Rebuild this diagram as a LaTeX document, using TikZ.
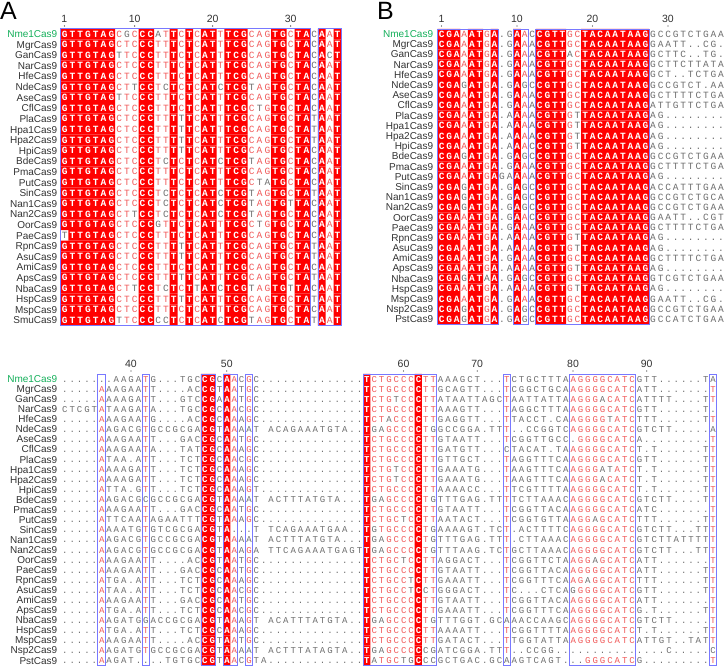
\documentclass[tikz,border=0pt]{standalone}
\usepackage{fontspec}
\setmainfont{Liberation Sans}
\newfontfamily\seqmono{Liberation Mono}
\usepackage{tikz}
\definecolor{consred}{RGB}{255,0,0}
\definecolor{simred}{RGB}{240,90,90}
\definecolor{resgray}{RGB}{110,110,110}
\definecolor{framblue}{RGB}{120,120,255}
\definecolor{namegray}{RGB}{50,50,50}
\definecolor{refgreen}{RGB}{20,175,90}
\newcount\colno
\newcount\rowno
\newtoks\tF \newtoks\tS \newtoks\tN
\def\seqsize{9.5}
\newcommand{\seqfont}{\seqmono\fontsize{\seqsize}{\seqsize}\selectfont}
\newcommand{\seqfontb}{\seqmono\bfseries\fontsize{\seqsize}{\seqsize}\selectfont}
% column profile: column/class/consensus (F = identical, S = similar)
\newcommand{\markcols}[2]{%
  \foreach \cn/\kl/\ct in {#2}{%
    \expandafter\xdef\csname pc#1-\cn\endcsname{\kl}%
    \expandafter\xdef\csname pk#1-\cn\endcsname{\ct}}}
\def\addto#1#2{\global#1=\expandafter{\the#1#2}}
\def\cbox#1{\hbox to \cw pt{\hss#1\hss}}
\def\rescell#1{%
  \edef\cc{\csname pc\pname-\the\colno\endcsname}%
  \edef\ck{\csname pk\pname-\the\colno\endcsname}%
  \def\rcls{N}%
  \if#1\ck \if F\cc\def\rcls{F}\fi \if S\cc\def\rcls{S}\fi \fi
  \if-#1\def\rcls{X}\fi
  \if F\rcls \addto\tF{\cbox{#1}}%
    \pgfmathsetmacro\cxl{\xo+(\the\colno-1)*\cw}%
    \pgfpathrectangle{\pgfpoint{\cxl pt}{\cyb pt}}{\pgfpoint{\cw pt}{\rh pt}}%
  \else \addto\tF{\cbox{}}\fi
  \if S\rcls \addto\tS{\cbox{#1}}\else \addto\tS{\cbox{}}\fi
  \if N\rcls \addto\tN{\cbox{#1}}\else \addto\tN{\cbox{}}\fi}
\def\rowloop#1{\ifx#1\relax\else\advance\colno by 1 \rescell#1\expandafter\rowloop\fi}
\newcommand{\seqline}[2]{%
  \global\advance\rowno by 1
  \pgfmathsetmacro\cy{\yo+(\the\rowno-1)*\rh}%
  \pgfmathsetmacro\cyb{-\cy-0.5*\rh}%
  \ifnum\rowno=1 \def\nstyle{refname}\else\def\nstyle{seqname}\fi
  \node[\nstyle] (\pname n\the\rowno) at (\lx,\cy+3.6) {#1};%
  \global\tF={}\global\tS={}\global\tN={}%
  \begin{pgfscope}
    \pgfsetfillcolor{consred}%
    \colno=0 \rowloop#2\relax
    \pgfusepath{fill}%
  \end{pgfscope}
  \node[seqtext, text=white, font=\seqfontb] (\pname f\the\rowno) at (\xo,\cy+3.15) {\the\tF};%
  \node[seqtext, text=simred] (\pname s\the\rowno) at (\xo,\cy+3.15) {\the\tS};%
  \node[seqtext, text=resgray] (\pname g\the\rowno) at (\xo,\cy+3.15) {\the\tN};}
\tikzset{
  seqtext/.style={anchor=base west, inner sep=0pt, font=\seqfont},
  colframe/.style={draw=framblue, line width=0.8pt},
  seqname/.style={anchor=base east, inner sep=0pt, text=namegray,
                  font=\fontsize{10}{10}\selectfont},
  refname/.style={seqname, text=refgreen},
  rulenum/.style={inner sep=0pt, text=namegray, font=\fontsize{10.5}{10.5}\selectfont},
  rulemark/.style={circle, fill=namegray, inner sep=0pt, minimum size=1.3pt},
  paneltag/.style={anchor=north west, inner sep=0pt, font=\fontsize{25}{25}\selectfont},
}
\markcols{A}{1/F/G,2/F/T,3/F/T,4/F/G,5/F/T,6/F/A,7/F/G,8/S/C,9/S/T,10/S/C,11/F/C,
  12/F/C,13/S/T,14/S/T,15/F/T,16/S/C,17/F/T,18/S/C,19/F/A,20/F/T,21/S/T,22/F/T,
  23/F/C,24/F/G,25/S/C,26/S/A,27/S/G,28/F/T,29/F/G,30/S/C,31/F/T,32/F/A,34/F/A,
  35/S/A,36/F/T}
\markcols{B}{1/F/C,2/F/G,3/F/A,4/S/A,5/F/A,6/F/T,7/S/G,8/F/A,11/F/A,12/S/A,14/F/C,
  15/F/G,16/F/T,17/F/T,18/S/G,19/S/C,20/F/T,21/F/A,22/F/C,23/F/A,24/F/A,25/F/T,
  26/F/A,27/F/A,28/F/G}
\markcols{E}{6/S/A,12/S/T,20/F/C,21/F/G,23/F/A,24/S/A,26/S/G,42/F/T,43/S/C,44/S/T,
  45/S/G,46/S/C,47/S/C,48/S/C,49/F/C,50/S/T,51/S/T,61/S/T,70/S/A,71/S/G,72/S/G,
  73/S/G,74/S/G,75/S/C,76/S/A,77/S/T,78/S/C,89/S/T}
\begin{document}
\begin{tikzpicture}[x=1pt,y=-1pt]
  \useasboundingbox (0,0) rectangle (727,666);

  % --- panel A ---
  \node[paneltag] (tagA) at (0,2) {A};
  \def\pname{A}\def\xo{60.5}\def\cw{7.8}\def\yo{34}\def\rh{10.6}\def\lx{57.5}
  \def\seqsize{9.5}\global\rowno=0
  \foreach \n/\cn in {1/1,10/10,20/20,30/30}{
    \node[rulenum] (At\n) at ({\xo+(\cn-0.5)*\cw},19) {\n};
    \node[rulemark] (Ad\n) at ({\xo+(\cn-0.5)*\cw},26) {};
  }
  \seqline{Nme1Cas9}{GTTGTAG CGCCC ATT CTC ATT TCG CAG TGC TA CAAT}
  \seqline{MgrCas9}{GTTGTAG CTCCC TTT CTC ATT TCG CAG TGC TA CAAT}
  \seqline{GanCas9}{GTTGTAG TTCCC TTT CTC ATT TCG CAG TGC TA CACT}
  \seqline{NarCas9}{GTTGTAG CTCCC TTT CTC ATT TCG CAG TGC TA CAAT}
  \seqline{HfeCas9}{GTTGTAG CTCCC TTT CTC ATT TCG CAG TGC TA CAAT}
  \seqline{NdeCas9}{GTTGTAG CTTCC TCT CTC ATC TCG TAG TGC TA CAAT}
  \seqline{AseCas9}{GTTGTAG TTCCC TTT CTC ATT TCG CAG TGC TA CAAT}
  \seqline{CflCas9}{GTTGTAG CTCCC TTT CTC ATT TCG CTG TGC TA CAAT}
  \seqline{PlaCas9}{GTTGTAG CTCCC TTT TTC ATT TCG CAG TGC TA TAAT}
  \seqline{Hpa1Cas9}{GTTGTAG CTCCC TTT TTC ATT TCG CAG TGC TA TAAT}
  \seqline{Hpa2Cas9}{GTTGTAG CTCCC TTT TTC ATT TCG CAG TGC TA TAAT}
  \seqline{HpiCas9}{GTTGTAG CTCCC TTT TTC ATT TCG CAG TGC TA CAAT}
  \seqline{BdeCas9}{GTTGTAG CTCCC TCT CTC ATC TCG TAG TGC TA CAAT}
  \seqline{PmaCas9}{GTTGTAG CTCCC TTT CTC ATT TCG CAG TGC TA CAAT}
  \seqline{PutCas9}{GTTGTAG CTCCC TTT CTC ATT TCG CTA TGC TA CAAT}
  \seqline{SinCas9}{GTTGTAG CTCCC TCT CTC ATC TCG TAG TGC TA TAAT}
  \seqline{Nan1Cas9}{GTTGTAG CTCCC TCT CTC ATC TCG TAG TGT TA CAAT}
  \seqline{Nan2Cas9}{GTTGTAG CTTCC TCT CTC ATC TCG TAG TGC TA CAAT}
  \seqline{OorCas9}{GTTGTAG CTCCC GTT CTC ATT TCG CTG TGC TA CAAT}
  \seqline{PaeCas9}{TTTGTAG CTCCC TTT CTC ATT TCG CAG TGC TA CAAT}
  \seqline{RpnCas9}{GTTGTAG CTCCC TTT TTC ATT TCG CAG TGC TA TAAT}
  \seqline{AsuCas9}{GTTGTAG CTCCC TTT TTC ATT TCG CAG TGC TA TAAT}
  \seqline{AmiCas9}{GTTGTAG CTCCC TTT CTC ATT TCG CAG TGC TA CAAT}
  \seqline{ApsCas9}{GTTGTAG CTCCC TTT TTC ATT TCG CAG TGC TA TAAT}
  \seqline{NbaCas9}{GTTGTAG CTTCC TCT CTT ATC TCG TAG TGT TA CAAT}
  \seqline{HspCas9}{GTTGTAG CTCCC TTT TTC ATT TCG CAG TGC TA TAAT}
  \seqline{MspCas9}{GTTGTAG CTCCC TTT CTC ATT TCG CAG TGC TA CAAT}
  \seqline{SmuCas9}{GTTGTAG TTCCC CCT CTC ATC TCG TAG TGC TA TAAT}
  \foreach \a/\b in {1/32,34/36}
    \draw[colframe] ({\xo+(\a-1)*\cw},{\yo-\rh/2}) rectangle ({\xo+\b*\cw},{\yo+27.5*\rh});

  % --- panel B ---
  \node[paneltag] (tagB) at (377,2) {B};
  \def\pname{B}\def\xo{437.7}\def\cw{7.55}\def\yo{34}\def\rh{10.19}\def\lx{433.3}
  \global\rowno=0
  \foreach \n/\cn in {1/1,10/11,20/21,30/31}{
    \node[rulenum] (Bt\n) at ({\xo+(\cn-0.5)*\cw},19) {\n};
    \node[rulemark] (Bd\n) at ({\xo+(\cn-0.5)*\cw},26) {};
  }
  \seqline{Nme1Cas9}{CGAAATGA . GAA C CGTTGC TACAATAAG GCCGTCTGAA}
  \seqline{MgrCas9}{CGAAATGA . GAA A CGTTGC TACAATAAG GAATT..CG.}
  \seqline{GanCas9}{CGAAATGA . GAA A CGTTAC TACAATAAG GCTTC..TG.}
  \seqline{NarCas9}{CGAAATGA . GAA A CGTTGC TACAATAAG GCTTCTTATA}
  \seqline{HfeCas9}{CGAAATGA . GAA A CGTTGC TACAATAAG GCT..TCTGA}
  \seqline{NdeCas9}{CGAGATGA . GAG C CGTTGC TACAATAAG GCCGTCT.AA}
  \seqline{AseCas9}{CGAAATGA . GAA A CGTTGC TACAATAAG GCTTTTCTGA}
  \seqline{CflCas9}{CGAAATGA . GAA A CGTTGC TACAATAAG ATTGTTCTGA}
  \seqline{PlaCas9}{CGAAATGA . AAA A CGTTGT TACAATAAG AG........}
  \seqline{Hpa1Cas9}{CGAAATGA . AAA A CGTTGT TACAATAAG AG........}
  \seqline{Hpa2Cas9}{CGAAATGA . AAA A CGTTGT TACAATAAG AG........}
  \seqline{HpiCas9}{CGAAATGA . AAA C CGTTGT TACAATAAG AG........}
  \seqline{BdeCas9}{CGAGATGA . GAG C CGTTGC TACAATAAG GCCGTCTGAA}
  \seqline{PmaCas9}{CGAAATGA . GAA A CGTTGC TACAATAAG GCTTTTCTGA}
  \seqline{PutCas9}{CGAAATGA G AAA A CGTTGC TACAATAAG AG........}
  \seqline{SinCas9}{CGAGATGA . GAG C CGTTGC TACAATAAG ACCATTTGAA}
  \seqline{Nan1Cas9}{CGAGATGA . GAG C CGTTGC TACAATAAG GCCGTCTGCA}
  \seqline{Nan2Cas9}{CGAGATGA . GAG C CGTTGC TACAATAAG GCCGTCTGAA}
  \seqline{OorCas9}{CGAAATGA . GAA C CGTTGC TACAATAAG GAATT..CGT}
  \seqline{PaeCas9}{CGAAATGA . GAA A CGTTGC TACAATAAG GCTTTTCTGA}
  \seqline{RpnCas9}{CGAAATGA . AAA A CGTTGT TACAATAAG AG........}
  \seqline{AsuCas9}{CGAAATGA . AAA A CGTTGT TACAATAAG AG........}
  \seqline{AmiCas9}{CGAAATGA . GAA A CGTTGC TACAATAAG GCTTTTCTGA}
  \seqline{ApsCas9}{CGAAATGA . AAA A CGTTGT TACAATAAG AG........}
  \seqline{NbaCas9}{CGAGATAA . GAG C CGTTGC TACAATAAG GTCGTCTGAA}
  \seqline{HspCas9}{CGAAATGA . AAA A CGTTGT TACAATAAG AG........}
  \seqline{MspCas9}{CGAAATGA . GAA A CGTTGC TACAATAAG GAATT..CG.}
  \seqline{Nsp2Cas9}{CGAGATGA . GAG C CGTTGC TACAATAAG GCCGTCTGAA}
  \seqline{PstCas9}{CGAGATGA . GAG C CGTTGC TACAATAAG GCCATCTGAA}
  \foreach \a/\b in {1/8,11/12,14/28}
    \draw[colframe] ({\xo+(\a-1)*\cw},{\yo-\rh/2}) rectangle ({\xo+\b*\cw},{\yo+28.5*\rh});

  % --- lower block (continuation) ---
  \def\pname{E}\def\xo{61}\def\cw{7.367}\def\yo{379}\def\rh{10.05}\def\lx{57.5}
  \def\seqsize{9}\global\rowno=0
  \foreach \n/\cn in {40/10,50/23,60/47,70/57,80/70,90/80}{
    \node[rulenum] (Et\n) at ({\xo+(\cn-0.5)*\cw},364) {\n};
    \node[rulemark] (Ed\n) at ({\xo+(\cn-0.5)*\cw},371) {};
  }
  \seqline{Nme1Cas9}{..... . .AAGA T G...TGC CG CAACGC . ............. TCTGCCCCTT AAAGCT... T CTGCTTTA AGGGGCATC GTT......T A}
  \seqline{MgrCas9}{..... A AAGAA T T....AC CG TAATGC . ............. TCTGCCCCTT GCAGTT... T CGGCTGCA AGGGGCATC ATT....... T}
  \seqline{GanCas9}{..... A AAAGA T T...GTC CG AAATGC . ............. TCTGTCCCTT ATAATTAGC T AATTATTA AGGGACATC ATTTT....T T}
  \seqline{NarCas9}{CTCGT A TAAGA T A...TGC CG CAACGC . ............. TCTGCCCCTT AAAGTT... T AGGCTTTA AGGGGCATC GTT......T .}
  \seqline{HfeCas9}{..... A AAGAA T G....AC CG CAAAGC . ............. TCTACCCCTT GAGGTT... T TACCT.CA AGGGGTATC TTT......T T}
  \seqline{NdeCas9}{..... A AGACG T GCCGCGA CG TAAAAT - ACAGAAATGTA.. TGAGCCCCTG GCCGGA.TT T ..CCGGTC AGGGGCATC GTCTT..... A}
  \seqline{AseCas9}{..... A AAGAA T T...GAC CG CAATGC . ............. TCTGCCCCTT GTAATT... T CGGTTGCC .GGGGCATC A......... T}
  \seqline{CflCas9}{..... A AAGAA T A...TAT CG CAAAGC . ............. TCTGCCCCTT GATGTT... C TACAT.TA AGGGGCATC T.T......T T}
  \seqline{PlaCas9}{..... A TAA.A T T...TCT CG CAACGC . ............. TCTGCCCCTT GTTGCT... T AGGTTTCA AGGGGCATC GTT......T T}
  \seqline{Hpa1Cas9}{..... A AAAGA T T...TCT CG CAAAGC . ............. TCTGTCCCTT GAAATG... T AAGTTTCA AGGGATATC T.T......T T}
  \seqline{Hpa2Cas9}{..... A AAAGA T T...TCT CG CAAAGC . ............. TCTGTCCCTT GAAATG... T AAGTTTCA AGGGACATC T.T......T T}
  \seqline{HpiCas9}{..... A TTA.G T T...TCT CG CAAAGT . ............. TCTGCCCCTT AAAACC... T TCGTTTTA AGGGGCATC T.T......T T}
  \seqline{BdeCas9}{..... A AGACG C GCCGCGA CG TAAAAT - ACTTTATGTA... TGAGCCCCTG TTTGAG.TT T TCTTAAAC AGGGGCATC GTCTT....T T}
  \seqline{PmaCas9}{..... A AAGAA T T...GAC CG CAATGC . ............. TCTGCCCCTT GTAATT... T CGGTTACA AGGGGCATC ATC....... T}
  \seqline{PutCas9}{..... A TTCAA T AGAATTT CG TAAAGC . ............. TCTGCTCCTT AATACT... T CGGTGTTA AGGAGCATC TTT......T T}
  \seqline{SinCas9}{..... A AAATG T GTCGCGA CG TA...T - TCAGAAATGAA.. TGTGCCCCTG AAAAGT.TC T .ACTTTTC AGGGGCATC GTCTT...TT T}
  \seqline{Nan1Cas9}{..... A AGACG T GCCGCGA CG TAAAAT - ACTTTATGTA... TGAGCCCCTG TTTGAG.TT T .CTTAAAC AGGGGCATC GTCTTATTTT T}
  \seqline{Nan2Cas9}{..... A AGACG T GCCGCGA CG TAAAGA - TTCAGAAATGAGT TGAGCCCCTG TTTAAG.TC T GCTTAAAC AGGGGCATC GTCTT...TT T}
  \seqline{OorCas9}{..... A AAGAA T T....AC CG TAATGC . ............. TCTGCTCCTT AGGACT... T CGGTTCTA AGGAGCATC ATT....... T}
  \seqline{PaeCas9}{..... A AAGAA T T...GAC CG CAATGC . ............. TCTGCCCCTT GTAATT... T CGGTTACA AGGGGCATC ATT......T T}
  \seqline{RpnCas9}{..... A TGA.A T T...TCT CG CAAAGC . ............. TCTGCCTCTT GAAATT... T CGGTTTCA AGAGGCATC TTT......T T}
  \seqline{AsuCas9}{..... A TAA.A T T...TCT CG CAACGC . ............. TCTGCCTCCT GGGACT... T C...CTCA GGGGGCATC GTT......T T}
  \seqline{AmiCas9}{..... A AAGAA T T...GAC CG CAATGC . ............. TCTGCCCCTT GTAATT... T CGGTTACA AGGGGCATC ATT....... T}
  \seqline{ApsCas9}{..... A TGA.A T T...TCT CG CAACGC . ............. TCTGCCCCTT GAAATT... T CGGTTTCA AGGGGCATC G.T......T T}
  \seqline{NbaCas9}{..... A AGATG G ACCGCGA CG TAAAGT - ACATTTATGTA.. TGAGCCCCTG TTTGGT.GC A AACCAAGC AGGGGCATC GTCTT..... T}
  \seqline{HspCas9}{..... A TGA.A T T...TCT CG CAAAGC . ............. TCTGCCCCTT AAAATT... T CGGTTTTA AGGGGCATC T.T......T T}
  \seqline{MspCas9}{..... A AAGAA T T....AC CG TAATGC . ............. TCTGCCCCTT GATACT... T TGGTATTA AGGGGCATC ATTGT..TAT T}
  \seqline{Nsp2Cas9}{..... A AGATG T GCCGCGA CG TAAAAT - ACTTTATAGTA.. TGAGCCCCCG ATCGGA.TT T ..CCGG.. ......... ....C..... C}
  \seqline{PstCas9}{..... A AGAT. . ..TGTGC CG TAACGT A ............. TATGCTGCCC GCTGAC.GC A AGTCAGT. ..GGGCATC G......... T}
  \foreach \a/\b in {6/6,12/12,20/21,23/24,26/26,42/51,61/61,70/78,89/89}
    \draw[colframe] ({\xo+(\a-1)*\cw},{\yo-\rh/2}) rectangle ({\xo+\b*\cw},{\yo+28.5*\rh});
\end{tikzpicture}
\end{document}
